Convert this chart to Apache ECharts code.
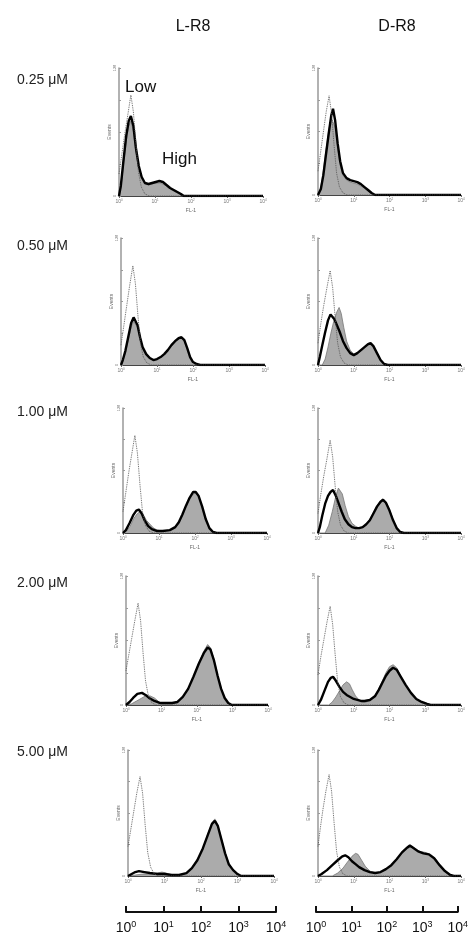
<!DOCTYPE html>
<html>
<head>
<meta charset="utf-8">
<script src="https://cdn.jsdelivr.net/npm/echarts@6/dist/echarts.min.js"></script>
<style>
  html, body { margin: 0; padding: 0; background: #fff; }
  #chart { width: 471px; height: 939px; }
</style>
</head>
<body>
<div id="chart"></div>
<script>
// peptides (columns) and concentrations (rows)
var peptides = ['L-R8', 'D-R8'];
var concs = ['0.25 \u03bcM', '0.50 \u03bcM', '1.00 \u03bcM', '2.00 \u03bcM', '5.00 \u03bcM'];

// each point: [log10(FL-1), events]; ctrl = dotted, fill = grey, line = thick black
var l1Ctrl = [[0,22],[0.08,42],[0.16,62],[0.24,80],[0.33,101],[0.4,84],[0.47,52],[0.54,24],[0.62,9],[0.72,2],[0.85,0],[4,0]];
var l1Fill = [[0,0],[0.05,8],[0.12,30],[0.2,55],[0.27,70],[0.33,75],[0.4,65],[0.47,45],[0.55,28],[0.63,18],[0.72,13],[0.82,11],[0.92,12],[1.02,13],[1.12,13],[1.22,12],[1.32,10],[1.42,7],[1.52,5],[1.62,3],[1.72,1],[1.82,0],[4,0]];
var l1Line = [[0,0],[0.05,10],[0.12,34],[0.2,60],[0.27,75],[0.33,80],[0.4,70],[0.47,48],[0.55,30],[0.63,19],[0.72,13],[0.82,12],[0.92,13],[1.02,14],[1.12,15],[1.22,14],[1.32,11],[1.42,8],[1.52,6],[1.62,4],[1.72,2],[1.8,0],[4,0]];

var d1Ctrl = [[0,24],[0.08,45],[0.16,66],[0.23,84],[0.31,100],[0.38,82],[0.45,50],[0.52,22],[0.6,8],[0.7,2],[0.82,0],[4,0]];
var d1Fill = [[0,0],[0.08,8],[0.15,25],[0.22,45],[0.3,65],[0.37,78],[0.42,80],[0.48,68],[0.55,48],[0.62,30],[0.7,20],[0.8,15],[0.9,13],[1.0,12],[1.1,11],[1.2,9],[1.3,7],[1.4,4],[1.5,2],[1.6,0],[4,0]];
var d1Line = [[0,0],[0.08,6],[0.15,20],[0.22,40],[0.3,62],[0.37,80],[0.42,87],[0.48,75],[0.55,52],[0.62,34],[0.7,22],[0.8,17],[0.9,15],[1.0,14],[1.1,13],[1.2,11],[1.3,8],[1.4,5],[1.5,2],[1.6,0],[4,0]];

var l2Ctrl = [[0,20],[0.08,40],[0.16,60],[0.24,80],[0.33,100],[0.4,82],[0.47,50],[0.54,22],[0.62,8],[0.72,2],[0.85,0],[4,0]];
var l2Fill = [[0,0],[0.05,4],[0.12,12],[0.2,25],[0.28,38],[0.35,44],[0.4,45],[0.46,38],[0.53,26],[0.6,17],[0.7,10],[0.8,6],[0.9,5],[1.0,6],[1.1,8],[1.2,11],[1.3,15],[1.4,19],[1.5,23],[1.6,26],[1.68,27],[1.76,24],[1.84,16],[1.92,8],[2.0,3],[2.1,1],[2.2,0],[4,0]];
var l2Line = [[0,0],[0.05,5],[0.12,14],[0.2,28],[0.28,42],[0.35,48],[0.4,48],[0.46,40],[0.53,28],[0.6,18],[0.7,11],[0.8,7],[0.9,5],[1.0,6],[1.1,8],[1.2,11],[1.3,15],[1.4,20],[1.5,24],[1.6,27],[1.68,28],[1.76,25],[1.84,17],[1.92,8],[2.0,3],[2.1,1],[2.2,0],[4,0]];

var d2Ctrl = [[0,22],[0.08,42],[0.16,60],[0.25,78],[0.34,95],[0.41,78],[0.48,48],[0.55,22],[0.63,8],[0.73,2],[0.85,0],[4,0]];
var d2Fill = [[0,0],[0.12,0],[0.2,6],[0.28,18],[0.36,32],[0.44,44],[0.52,53],[0.59,58],[0.65,52],[0.72,38],[0.8,24],[0.9,15],[1.0,11],[1.1,12],[1.2,14],[1.3,17],[1.4,20],[1.47,21],[1.55,18],[1.65,11],[1.75,5],[1.85,1],[1.95,0],[4,0]];
var d2Line = [[0,0],[0.05,8],[0.12,20],[0.2,33],[0.28,45],[0.35,51],[0.4,52],[0.46,46],[0.53,40],[0.6,34],[0.7,24],[0.8,17],[0.9,12],[1.0,10],[1.1,12],[1.2,15],[1.3,18],[1.4,21],[1.47,22],[1.55,19],[1.65,12],[1.75,5],[1.85,1],[1.95,0],[4,0]];

var l3Ctrl = [[0,22],[0.08,42],[0.16,62],[0.24,80],[0.33,100],[0.4,82],[0.47,50],[0.54,22],[0.62,8],[0.72,2],[0.85,0],[4,0]];
var l3Fill = [[0,0],[0.1,2],[0.2,7],[0.3,15],[0.4,20],[0.48,22],[0.56,19],[0.65,13],[0.75,9],[0.85,5],[0.95,3],[1.1,2],[1.3,3],[1.45,5],[1.55,10],[1.65,18],[1.75,27],[1.85,35],[1.95,40],[2.02,41],[2.1,37],[2.2,26],[2.3,13],[2.4,5],[2.5,1],[2.6,0],[4,0]];
var l3Line = [[0,0],[0.08,3],[0.18,10],[0.28,18],[0.37,23],[0.44,24],[0.52,20],[0.6,13],[0.7,7],[0.8,4],[0.95,2],[1.1,2],[1.3,3],[1.45,6],[1.55,11],[1.65,19],[1.75,28],[1.85,36],[1.95,42],[2.02,42],[2.1,38],[2.2,27],[2.3,14],[2.4,5],[2.5,1],[2.6,0],[4,0]];

var d3Ctrl = [[0,20],[0.08,40],[0.16,58],[0.25,76],[0.34,95],[0.41,78],[0.48,48],[0.55,22],[0.63,8],[0.73,2],[0.85,0],[4,0]];
var d3Fill = [[0,0],[0.2,0],[0.3,8],[0.4,22],[0.5,38],[0.57,46],[0.62,47],[0.68,40],[0.76,28],[0.85,17],[0.95,10],[1.05,7],[1.15,5],[1.25,6],[1.35,9],[1.45,14],[1.55,21],[1.65,28],[1.75,33],[1.82,35],[1.9,32],[2.0,24],[2.1,14],[2.2,6],[2.3,1],[2.4,0],[4,0]];
var d3Line = [[0,0],[0.05,6],[0.12,18],[0.2,30],[0.28,38],[0.35,42],[0.42,44],[0.5,38],[0.58,30],[0.66,22],[0.75,14],[0.85,9],[0.95,6],[1.05,5],[1.15,5],[1.25,6],[1.35,9],[1.45,13],[1.55,20],[1.65,27],[1.75,32],[1.82,34],[1.9,31],[2.0,23],[2.1,13],[2.2,5],[2.3,1],[2.4,0],[4,0]];

var l4Ctrl = [[0,34],[0.08,50],[0.16,66],[0.25,84],[0.34,101],[0.41,84],[0.48,52],[0.55,24],[0.63,9],[0.73,2],[0.85,0],[4,0]];
var l4Fill = [[0,0],[0.15,1],[0.3,4],[0.45,7],[0.55,9],[0.68,9],[0.8,7],[0.9,4],[1.0,1],[1.1,1],[1.3,1],[1.45,3],[1.6,8],[1.75,16],[1.9,28],[2.05,42],[2.2,54],[2.3,60],[2.38,57],[2.48,45],[2.58,30],[2.68,16],[2.78,7],[2.88,2],[2.98,0],[4,0]];
var l4Line = [[0,0],[0.1,3],[0.2,7],[0.32,11],[0.45,12],[0.55,10],[0.65,7],[0.8,4],[0.95,2],[1.1,2],[1.3,2],[1.45,3],[1.6,8],[1.75,16],[1.9,28],[2.05,41],[2.2,52],[2.3,57],[2.38,55],[2.48,44],[2.58,29],[2.68,16],[2.78,7],[2.88,2],[2.98,0],[4,0]];

var d4Ctrl = [[0,30],[0.08,48],[0.16,64],[0.25,82],[0.34,98],[0.41,80],[0.48,50],[0.55,23],[0.63,8],[0.73,2],[0.85,0],[4,0]];
var d4Fill = [[0,0],[0.3,0],[0.4,3],[0.5,8],[0.6,14],[0.7,20],[0.8,23],[0.88,21],[0.96,15],[1.05,9],[1.15,5],[1.25,3],[1.35,3],[1.5,6],[1.6,10],[1.7,16],[1.8,24],[1.9,32],[2.0,38],[2.1,40],[2.2,37],[2.3,30],[2.45,20],[2.6,11],[2.75,5],[2.9,2],[3.05,1],[3.15,0],[4,0]];
var d4Line = [[0,0],[0.08,5],[0.18,14],[0.28,23],[0.36,27],[0.42,28],[0.5,24],[0.6,18],[0.7,13],[0.8,10],[0.9,8],[1.0,6],[1.1,5],[1.2,4],[1.3,4],[1.45,5],[1.6,9],[1.7,15],[1.8,22],[1.9,29],[2.0,34],[2.1,37],[2.2,35],[2.3,29],[2.45,20],[2.6,12],[2.75,6],[2.9,3],[3.05,1],[3.15,0],[4,0]];

var l5Ctrl = [[0,30],[0.08,48],[0.16,66],[0.24,84],[0.33,101],[0.4,84],[0.47,52],[0.54,24],[0.62,9],[0.72,2],[0.85,0],[4,0]];
var l5Fill = [[0,0],[0.2,1],[0.4,2],[0.6,2],[0.8,3],[0.93,4],[1.05,3],[1.2,1],[1.4,1],[1.6,3],[1.75,8],[1.9,16],[2.05,28],[2.18,42],[2.3,54],[2.38,58],[2.46,52],[2.56,38],[2.66,24],[2.76,13],[2.88,6],[3.0,2],[3.1,0],[4,0]];
var l5Line = [[0,0],[0.1,2],[0.2,4],[0.3,5],[0.45,4],[0.6,3],[0.8,2],[1.0,2],[1.2,1],[1.4,1],[1.6,3],[1.75,8],[1.9,16],[2.05,28],[2.18,41],[2.3,53],[2.38,56],[2.46,51],[2.56,37],[2.66,23],[2.76,12],[2.88,6],[3.0,2],[3.1,0],[4,0]];

var d5Ctrl = [[0,30],[0.07,50],[0.14,68],[0.22,86],[0.31,103],[0.38,86],[0.45,54],[0.52,25],[0.6,9],[0.7,2],[0.82,0],[4,0]];
var d5Fill = [[0,0],[0.4,0],[0.55,3],[0.7,8],[0.82,14],[0.95,20],[1.05,23],[1.12,22],[1.22,16],[1.32,10],[1.45,5],[1.6,3],[1.75,4],[1.9,7],[2.05,11],[2.2,17],[2.35,23],[2.5,28],[2.6,30],[2.72,28],[2.85,25],[3.0,24],[3.15,22],[3.3,17],[3.45,9],[3.6,3],[3.75,0],[4,0]];
var d5Line = [[0,0],[0.1,2],[0.25,6],[0.4,11],[0.55,16],[0.68,20],[0.76,21],[0.85,19],[0.95,15],[1.05,12],[1.15,9],[1.3,6],[1.45,4],[1.6,3],[1.75,4],[1.9,7],[2.05,11],[2.2,17],[2.35,24],[2.5,29],[2.57,31],[2.65,29],[2.8,25],[2.95,23],[3.1,22],[3.25,18],[3.4,11],[3.55,5],[3.7,1],[3.8,0],[4,0]];

var panels = [
  [l1Ctrl, l1Fill, l1Line], [d1Ctrl, d1Fill, d1Line],
  [l2Ctrl, l2Fill, l2Line], [d2Ctrl, d2Fill, d2Line],
  [l3Ctrl, l3Fill, l3Line], [d3Ctrl, d3Fill, d3Line],
  [l4Ctrl, l4Fill, l4Line], [d4Ctrl, d4Fill, d4Line],
  [l5Ctrl, l5Fill, l5Line], [d5Ctrl, d5Fill, d5Line]
];

// panel boxes in px: [left, top, width, height]
var boxes = [
  [119, 68, 144, 128], [318, 68, 143, 127],
  [121, 238, 144, 127], [318, 238, 143, 127],
  [123, 408, 144, 125], [318, 408, 143, 125],
  [126, 576, 142, 129], [318, 576, 143, 129],
  [128, 750, 146, 126], [318, 750, 143, 126]
];
var rowY = [77, 243, 409, 580, 749];
var font = 'Liberation Sans, Arial, sans-serif';

var chart = echarts.init(document.getElementById('chart'));

var grids = [], xAxes = [], yAxes = [], series = [];

panels.forEach(function(p, i) {
  var b = boxes[i];
  grids.push({ left: b[0], top: b[1], width: b[2], height: b[3] });
  xAxes.push({
    type: 'value', gridIndex: i, min: 0, max: 4, interval: 1,
    name: 'FL-1', nameLocation: 'middle', nameGap: 12,
    nameTextStyle: { fontSize: 5, color: '#666', fontFamily: font },
    axisLine: { lineStyle: { color: '#444', width: 1 } },
    axisTick: { length: 2, lineStyle: { color: '#666' } },
    splitLine: { show: false },
    axisLabel: {
      fontSize: 5, color: '#777', margin: 3, fontFamily: font,
      formatter: function(v) { return '10{s|' + v + '}'; },
      rich: { s: { fontSize: 3, verticalAlign: 'top', color: '#777' } }
    }
  });
  yAxes.push({
    type: 'value', gridIndex: i, min: 0, max: 128, interval: 32,
    name: 'Events', nameLocation: 'middle', nameGap: 5, nameRotate: 90,
    nameTextStyle: { fontSize: 5, color: '#666', fontFamily: font },
    axisLine: { show: true, lineStyle: { color: '#999', width: 1.5 } },
    axisTick: { show: true, inside: true, length: 2, lineStyle: { color: '#999' } },
    splitLine: { show: false },
    axisLabel: {
      fontSize: 4, color: '#777', margin: 2, rotate: 90, fontFamily: font,
      formatter: function(v) { return (v === 0 || v === 128) ? String(v) : ''; }
    }
  });
  series.push({
    type: 'line', xAxisIndex: i, yAxisIndex: i, data: p[1], symbol: 'none',
    lineStyle: { color: '#777', width: 0.8 },
    areaStyle: { color: '#ababab', opacity: 1 }, z: 2
  });
  series.push({
    type: 'line', xAxisIndex: i, yAxisIndex: i, data: p[2], symbol: 'none',
    lineStyle: { color: '#000', width: 2.4 }, z: 3
  });
  series.push({
    type: 'line', xAxisIndex: i, yAxisIndex: i, data: p[0], symbol: 'none',
    lineStyle: { color: '#555', width: 0.9, type: 'dotted' }, z: 4
  });
});

// bottom log scale bars
var scaleBoxes = [[126, 912, 150], [316, 912, 151]];
scaleBoxes.forEach(function(s) {
  var gi = grids.length;
  grids.push({ left: s[0], top: s[1] - 1, width: s[2], height: 1 });
  xAxes.push({
    type: 'log', logBase: 10, gridIndex: gi, min: 1, max: 10000,
    axisLine: { lineStyle: { color: '#111', width: 2 } },
    axisTick: { inside: true, length: 6, lineStyle: { color: '#111', width: 2 } },
    minorTick: { show: false },
    splitLine: { show: false },
    axisLabel: {
      fontSize: 14, color: '#111', margin: 8, fontFamily: font,
      formatter: function(v) { return '10{s|' + Math.round(Math.log10(v)) + '}'; },
      rich: { s: { fontSize: 9, verticalAlign: 'top', padding: [0, 0, 8, 0], color: '#111' } }
    }
  });
  yAxes.push({ type: 'value', gridIndex: gi, show: false, min: 0, max: 1 });
  series.push({ type: 'line', xAxisIndex: gi, yAxisIndex: gi, data: [], symbol: 'none' });
});

var titles = [
  { text: peptides[0], left: 188, top: 14, textAlign: 'center',
    textStyle: { fontSize: 16, fontWeight: 'normal', color: '#111', fontFamily: font } },
  { text: peptides[1], left: 392, top: 14, textAlign: 'center',
    textStyle: { fontSize: 16, fontWeight: 'normal', color: '#111', fontFamily: font } },
  { text: 'Low', left: 120, top: 74,
    textStyle: { fontSize: 17, fontWeight: 'normal', color: '#111', fontFamily: font } },
  { text: 'High', left: 157, top: 146,
    textStyle: { fontSize: 17, fontWeight: 'normal', color: '#111', fontFamily: font } }
];
concs.forEach(function(c, r) {
  titles.push({ text: c, left: 12, top: rowY[r] - 9,
    textStyle: { fontSize: 14, fontWeight: 'normal', color: '#222', fontFamily: font } });
});

chart.setOption({
  backgroundColor: '#fff',
  animation: false,
  title: titles,
  grid: grids,
  xAxis: xAxes,
  yAxis: yAxes,
  series: series
});
</script>
</body>
</html>
